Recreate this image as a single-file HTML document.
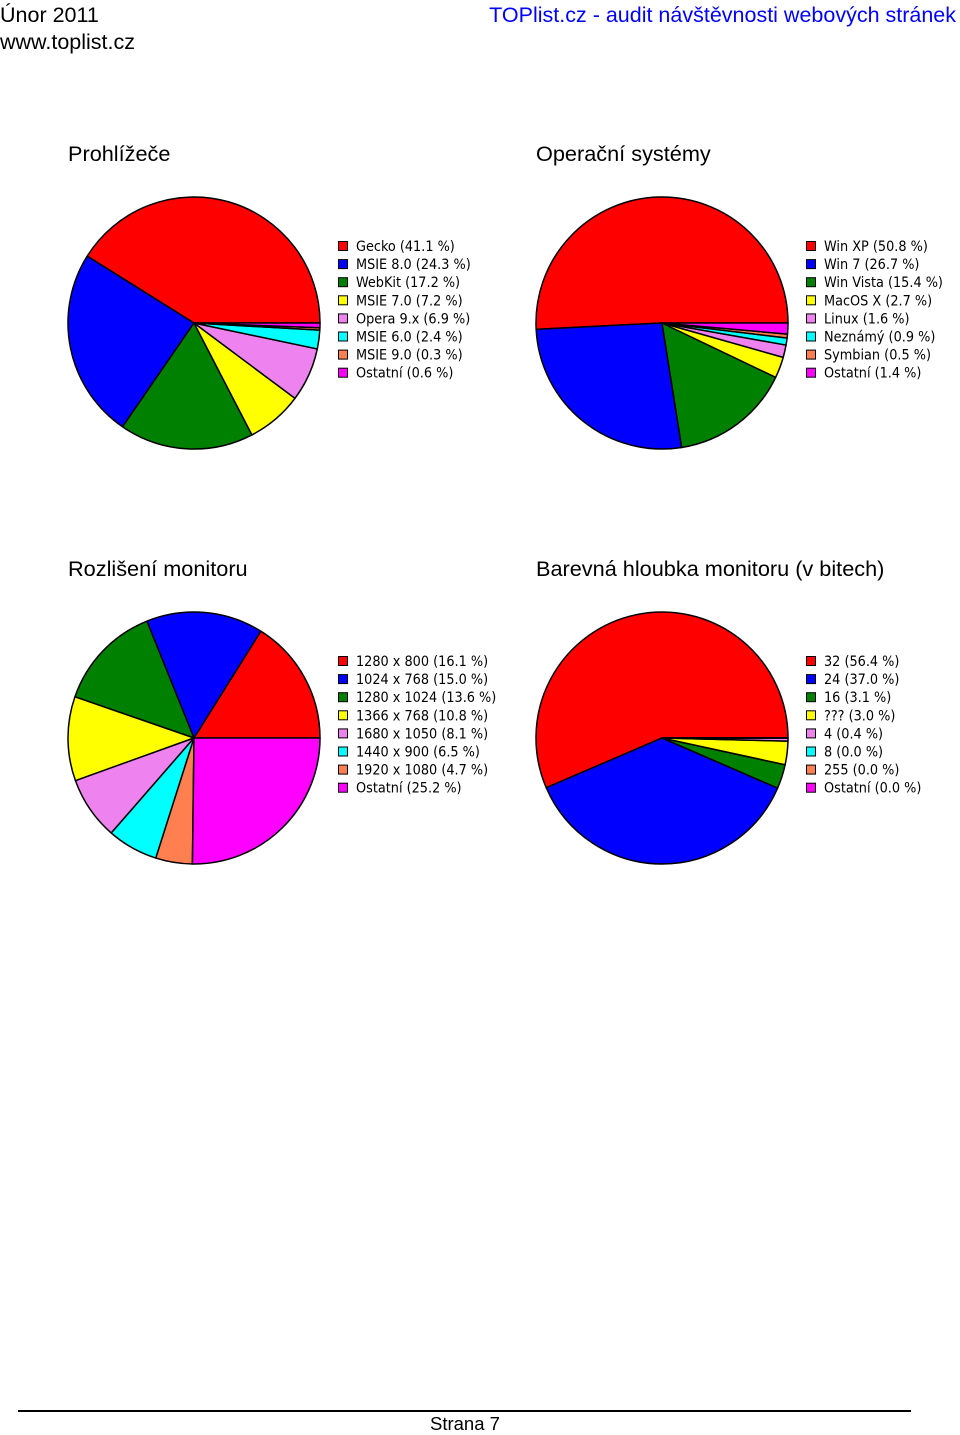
<!DOCTYPE html>
<html><head><meta charset="utf-8"><style>
body{margin:0;background:#fff;width:960px;height:1434px;overflow:hidden;position:relative;font-family:"Liberation Sans","DejaVu Sans",sans-serif}
.t{position:absolute;white-space:nowrap}
</style></head><body>
<div class="t" style="left:0;top:3px;font-size:21.5px">Únor 2011</div>
<div class="t" style="left:0;top:30px;font-size:21.5px">www.toplist.cz</div>
<div class="t" style="right:4px;top:3px;font-size:21.5px;color:#0000ff">TOPlist.cz - audit návštěvnosti webových stránek</div>
<svg id="c" width="960" height="1434" style="position:absolute;left:0;top:0"></svg>
<div style="position:absolute;left:18px;top:1410px;width:893px;height:2px;background:#000"></div>
<div class="t" style="left:430px;top:1413px;font-size:18.5px">Strana 7</div>
<script>
const colors=['#ff0000','#0000ff','#008000','#ffff00','#ee82ee','#00ffff','#ff7f50','#ff00ff'];
const titles=['Prohlížeče','Operační systémy','Rozlišení monitoru','Barevná hloubka monitoru (v bitech)'];
const labels1=['Gecko','MSIE 8.0','WebKit','MSIE 7.0','Opera 9.x','MSIE 6.0','MSIE 9.0','Ostatní'];
const values1=[41.1,24.3,17.2,7.2,6.9,2.4,0.3,0.6];
const labels2=['Win XP','Win 7','Win Vista','MacOS X','Linux','Neznámý','Symbian','Ostatní'];
const values2=[50.8,26.7,15.4,2.7,1.6,0.9,0.5,1.4];
const labels3=['1280 x 800','1024 x 768','1280 x 1024','1366 x 768','1680 x 1050','1440 x 900','1920 x 1080','Ostatní'];
const values3=[16.1,15.0,13.6,10.8,8.1,6.5,4.7,25.2];
const labels4=['32','24','16','???','4','8','255','Ostatní'];
const values4=[56.4,37.0,3.1,3.0,0.4,0.0,0.0,0.0];
const charts=[[labels1,values1],[labels2,values2],[labels3,values3],[labels4,values4]];
const svg=document.getElementById('c');const NS='http://www.w3.org/2000/svg';
function mk(t,a){const e=document.createElementNS(NS,t);for(const k in a)e.setAttribute(k,a[k]);svg.appendChild(e);return e;}
charts.forEach(([labs,vals],ci)=>{
  const ox=ci%2?468:0, oy=ci<2?0:415;
  const tt=mk('text',{x:68+ox,y:161+oy,'font-size':21.7,'font-family':'Liberation Sans, sans-serif'});
  tt.textContent=titles[ci];
  
  
  const cx=194+ox,cy=323+oy,r=126;
  const tot=vals.reduce((a,b)=>a+b,0);
  let a0=0;
  vals.forEach((v,i)=>{
    const a1=a0+v/tot*2*Math.PI;
    const x0=cx+r*Math.cos(a0),y0=cy-r*Math.sin(a0),x1=cx+r*Math.cos(a1),y1=cy-r*Math.sin(a1);
    const large=(a1-a0)>Math.PI?1:0;
    const p=mk('path',{d:`M${cx},${cy}L${x0},${y0}A${r},${r} 0 ${large} 0 ${x1},${y1}Z`,fill:colors[i],stroke:'#000','stroke-width':1.5,'stroke-linejoin':'round'});
    
    
    a0=a1;
    const ly=241+oy+i*18.1;
    const sq=mk('rect',{x:338.5+ox,y:ly+0.5,width:9,height:9,fill:colors[i],stroke:'#000','stroke-width':1});
    
    
    const lt=mk('text',{x:356+ox,y:ly+10,'font-size':14.3,'font-family':'DejaVu Sans Condensed, Liberation Sans, sans-serif','font-stretch':'condensed'});
    lt.textContent=labs[i]+' ('+vals[i].toFixed(1)+' %)';
    
    
  });
});
</script>
</body></html>
